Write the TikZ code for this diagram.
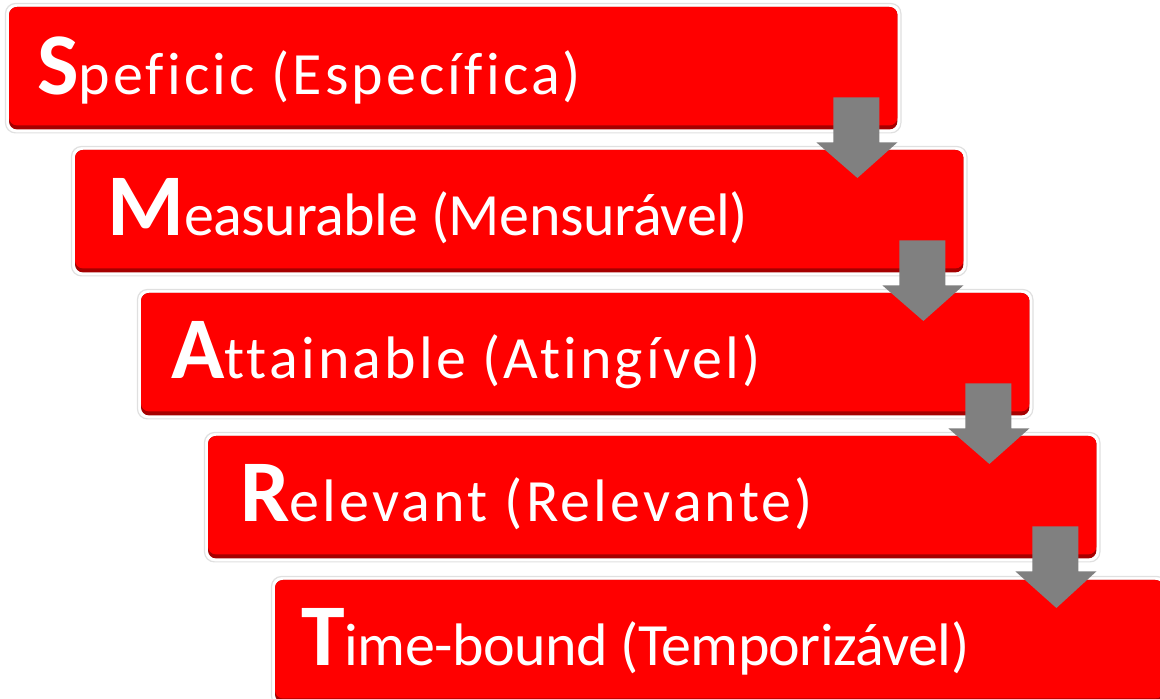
\documentclass[tikz,border=0pt]{standalone}
\usepackage{fontspec}
\setmainfont{Carlito}[Ligatures=NoCommon]
\newfontfamily\trackS{Carlito}[Ligatures=NoCommon, LetterSpace=5.2]
\newfontfamily\trackM{Carlito}[Ligatures=NoCommon, LetterSpace=-0.7]
\newfontfamily\trackA{Carlito}[Ligatures=NoCommon, LetterSpace=5.2]
\newfontfamily\trackR{Carlito}[Ligatures=NoCommon, LetterSpace=5.3]
\newfontfamily\trackT{Carlito}[Ligatures=NoCommon, LetterSpace=-1.0]
\usetikzlibrary{calc}
\definecolor{boxred}{RGB}{255,0,0}
\definecolor{boxdark}{RGB}{165,0,0}
\definecolor{arrowgray}{RGB}{128,128,128}
\tikzset{
  stepbox/.style={rectangle, anchor=north west, minimum width=888pt, minimum height=122pt,
    rounded corners=8pt, draw=none, inner sep=0pt},
  steptext/.style={anchor=base west, text=white, inner sep=0pt, font=\fontsize{60}{70}\selectfont},
  downarrow/.style={fill=arrowgray, draw=none},
}
\newcommand{\bigL}[1]{{\fontsize{88}{96}\selectfont\bfseries #1}}
\newcommand{\stepframe}[1]{%
  \fill[white, draw=black!12, line width=1.2pt, rounded corners=10pt]
    ($(#1.north west)+(-3.5,3.5)$) rectangle ($(#1.south east)+(3.5,-3.5)$);
  \fill[boxdark, rounded corners=8pt] (#1.north west) rectangle (#1.south east);
  \fill[boxred, rounded corners=8pt] (#1.north west) rectangle ($(#1.south east)+(0,4)$);
}
\begin{document}
\begin{tikzpicture}[x=1pt,y=1pt]
\clip (0,0) rectangle (1160,699);
\fill[white] (0,0) rectangle (1160,699);
\node[stepbox] (b1) at (9,692) {};
\node[stepbox] (b2) at (75,549) {};
\node[stepbox] (b3) at (141,406) {};
\node[stepbox] (b4) at (208,263) {};
\node[stepbox] (b5) at (275,119) {};
\stepframe{b1}
\stepframe{b2}
\stepframe{b3}
\stepframe{b4}
\stepframe{b5}
\node[steptext] (t1) at ($(b1.north west)+(28,-88)$) {\bigL{S}{\trackS peficic (Específica)}};
\node[steptext] (t2) at ($(b2.north west)+(32,-86)$) {\bigL{M}{\trackM easurable (Mensurável)}};
\node[steptext] (t3) at ($(b3.north west)+(30,-86)$) {\bigL{A}{\trackA ttainable (Atingível)}};
\node[steptext] (t4) at ($(b4.north west)+(32,-86)$) {\bigL{R}{\trackR elevant (Relevante)}};
\node[steptext] (t5) at ($(b5.north west)+(26,-86)$) {\bigL{T}{\trackT ime-bound (Temporizável)}};
\foreach \a/\b in {b1/b2, b2/b3, b3/b4, b4/b5}{
  \coordinate (tx) at ($(\a.south east)+(-40,0)$);
  \coordinate (ty) at ($(\b.north)+(0,-28)$);
  \fill[downarrow]
    ($(\a.south east)+(-64,32)$) -- ($(\a.south east)+(-18,32)$) --
    ($(\a.south east)+(-18,-13)$) -- ($(\a.south east)+(0,-13)$) --
    (tx |- ty) --
    ($(\a.south east)+(-81,-13)$) -- ($(\a.south east)+(-64,-13)$) -- cycle;
}
\end{tikzpicture}
\end{document}
